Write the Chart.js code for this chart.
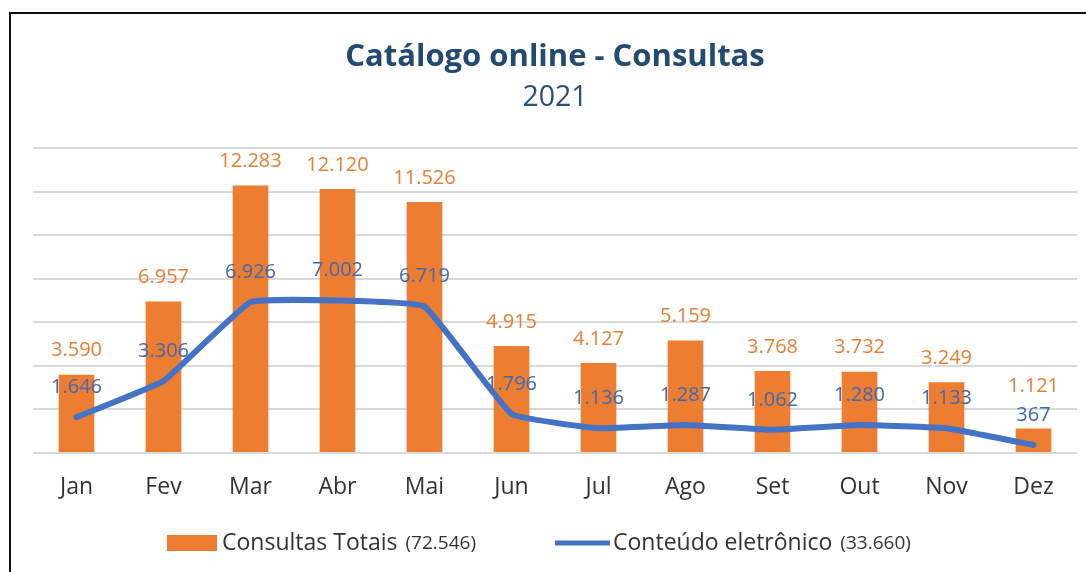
<!DOCTYPE html>
<html>
<head>
<meta charset="utf-8">
<script src="https://cdn.jsdelivr.net/npm/chart.js@4"></script>
<style>
  html, body { margin: 0; padding: 0; background: #fff; }
  #wrap { position: relative; width: 1086px; height: 572px; overflow: hidden; }
  #frame { position: absolute; left: 9px; top: 12px; width: 1200px; height: 700px;
           border-left: 2px solid #111; border-top: 2px solid #111; box-sizing: border-box; pointer-events: none; }
  canvas { position: absolute; left: 0; top: 0; }
</style>
</head>
<body>
<div id="wrap">
  <canvas id="c" width="1086" height="572"></canvas>
  <div id="frame"></div>
</div>
<script>
const categories = ['Jan','Fev','Mar','Abr','Mai','Jun','Jul','Ago','Set','Out','Nov','Dez'];
const consultasTotais = [3590, 6957, 12283, 12120, 11526, 4915, 4127, 5159, 3768, 3732, 3249, 1121];
const conteudoEletronico = [1646, 3306, 6926, 7002, 6719, 1796, 1136, 1287, 1062, 1280, 1133, 367];
const seriesNames = ['Consultas Totais', 'Conteúdo eletrônico'];
const seriesTotals = ['(72.546)', '(33.660)'];
const titleText = 'Catálogo online - Consultas';
const subtitleText = '2021';

const ORANGE = '#ED7D31';
const BLUE = '#4472C4';
const FONT = '"Open Sans", "Noto Sans", sans-serif';

// label offsets (px above the mark); the last bar label was lifted in the original
const BAR_LABEL_OFFSET = 24;
const LINE_LABEL_OFFSET = 30;
const BAR_LABEL_EXTRA = { 11: 18 };

function fmt(v) {
  return String(v).replace(/\B(?=(\d{3})+(?!\d))/g, '.');
}

const labelsPlugin = {
  id: 'valueLabels',
  afterDatasetsDraw(chart) {
    const ctx = chart.ctx;
    ctx.save();
    ctx.font = '20px ' + FONT;
    ctx.textAlign = 'center';
    ctx.textBaseline = 'middle';
    const barMeta = chart.getDatasetMeta(1);
    barMeta.data.forEach((el, i) => {
      ctx.fillStyle = ORANGE;
      ctx.fillText(fmt(consultasTotais[i]), el.x, el.y - BAR_LABEL_OFFSET - (BAR_LABEL_EXTRA[i] || 0));
    });
    const lineMeta = chart.getDatasetMeta(0);
    lineMeta.data.forEach((el, i) => {
      ctx.fillStyle = '#4169B0';
      ctx.fillText(fmt(conteudoEletronico[i]), el.x, el.y - LINE_LABEL_OFFSET);
    });
    ctx.restore();
  }
};

const legendPlugin = {
  id: 'customLegend',
  afterDraw(chart) {
    const ctx = chart.ctx;
    ctx.save();
    const y = 543;
    ctx.textBaseline = 'middle';
    ctx.textAlign = 'left';
    ctx.fillStyle = ORANGE;
    ctx.fillRect(167, 535, 50, 16);
    let x = 222;
    ctx.fillStyle = '#333333';
    ctx.font = '23px ' + FONT;
    ctx.fillText(seriesNames[0], x, y);
    x += ctx.measureText(seriesNames[0]).width + 8;
    ctx.font = '19px ' + FONT;
    ctx.fillText(seriesTotals[0], x, y + 1);
    ctx.strokeStyle = BLUE;
    ctx.lineWidth = 5;
    ctx.lineCap = 'butt';
    ctx.beginPath();
    ctx.moveTo(555, y);
    ctx.lineTo(610, y);
    ctx.stroke();
    x = 613;
    ctx.font = '23px ' + FONT;
    ctx.fillText(seriesNames[1], x, y);
    x += ctx.measureText(seriesNames[1]).width + 8;
    ctx.font = '19px ' + FONT;
    ctx.fillText(seriesTotals[1], x, y + 1);
    ctx.restore();
  }
};

new Chart(document.getElementById('c'), {
  data: {
    labels: categories,
    datasets: [
      {
        type: 'line',
        label: seriesNames[1],
        data: conteudoEletronico,
        borderColor: BLUE,
        borderWidth: 6,
        pointRadius: 0,
        tension: 0.1,
        order: 0,
        borderCapStyle: 'round',
        borderJoinStyle: 'round'
      },
      {
        type: 'bar',
        label: seriesNames[0],
        data: consultasTotais,
        backgroundColor: ORANGE,
        barPercentage: 0.41,
        categoryPercentage: 1,
        order: 1
      }
    ]
  },
  options: {
    responsive: false,
    animation: false,
    layout: { padding: { left: 33, right: 9, top: 0, bottom: 51 } },
    plugins: {
      legend: { display: false },
      tooltip: { enabled: false },
      title: {
        display: true,
        text: titleText,
        color: '#234A70',
        font: { family: FONT, size: 31, weight: 'bold' },
        padding: { top: 38.5, bottom: 0 }
      },
      subtitle: {
        display: true,
        text: subtitleText,
        color: '#2C4F75',
        font: { family: FONT, size: 28.5, weight: 'normal' },
        padding: { top: 4.7, bottom: 33.4 }
      }
    },
    scales: {
      x: {
        grid: { display: false, drawTicks: false },
        border: { display: false },
        ticks: { color: '#333', font: { family: FONT, size: 23 }, padding: 20.2 }
      },
      y: {
        min: 0, max: 14000,
        ticks: { display: false, stepSize: 2000 },
        grid: { color: '#D9D9D9', lineWidth: 2, drawTicks: false },
        border: { display: false }
      }
    }
  },
  plugins: [labelsPlugin, legendPlugin]
});
</script>
</body>
</html>
